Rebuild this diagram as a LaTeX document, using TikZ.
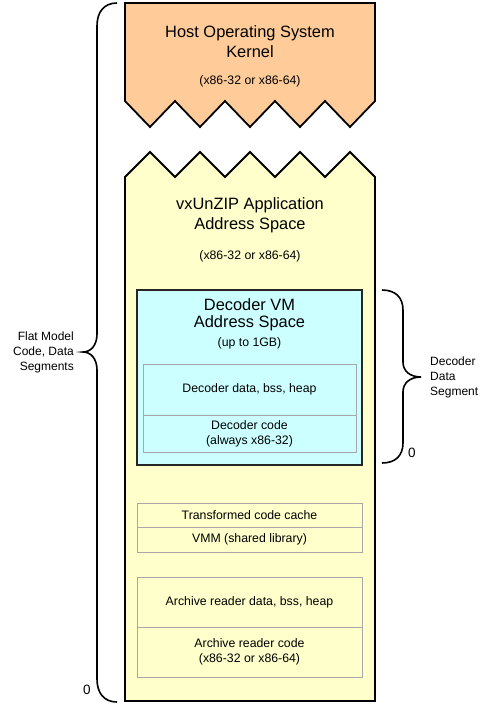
\documentclass[tikz,border=0pt]{standalone}
\usepackage{fontspec}
\setmainfont{Liberation Sans}
\usepackage{xcolor}
\usetikzlibrary{positioning}

\definecolor{kernelfill}{HTML}{FFCC99}
\definecolor{appfill}{HTML}{FFFFCC}
\definecolor{vmfill}{HTML}{CCFFFF}
\definecolor{cellline}{HTML}{A8A8A8}

\begin{document}
\begin{tikzpicture}[x=1pt,y=-1pt,
    outline/.style={draw=black,line width=1.8pt,line join=miter},
    cell/.style={draw=cellline,line width=0.8pt,outer sep=0pt,inner sep=0pt,
        align=center,font=\fontsize{12.3}{15}\selectfont},
    bigtitle/.style={align=center,font=\fontsize{16.4}{19.5}\selectfont},
    subtitle/.style={font=\fontsize{12.3}{15}\selectfont},
    bracestroke/.style={draw=black,line width=1.6pt}]

    \useasboundingbox (0,0) rectangle (501,705);

    % Kernel
    \draw[outline,fill=kernelfill] (125,3) -- (375,3) -- (375,101)
        -- (350,127) -- (325,101) -- (300,127) -- (275,101) -- (250,127)
        -- (225,101) -- (200,127) -- (175,101) -- (150,127) -- (125,101) -- cycle;
    \node[bigtitle] (kernel) at (250,41.5) {Host Operating System\\Kernel};
    \node[subtitle] (kernelarch) at (250,81) {(x86-32 or x86-64)};

    % Application address space
    \draw[outline,fill=appfill] (125,177) -- (150,152) -- (175,177)
        -- (200,152) -- (225,177) -- (250,152) -- (275,177) -- (300,152)
        -- (325,177) -- (350,152) -- (375,177) -- (375,701) -- (125,701) -- cycle;
    \node[bigtitle,font=\fontsize{16.4}{20}\selectfont] (app) at (250,215) {vxUnZIP Application\\Address Space};
    \node[subtitle] (apparch) at (250,256) {(x86-32 or x86-64)};

    % Decoder VM
    \draw[draw=black!85,line width=1.8pt,fill=vmfill] (137,290) rectangle (362,465);
    \node[bigtitle,font=\fontsize{16.4}{17}\selectfont] (vm) at (249.5,315) {Decoder VM\\Address Space};
    \node[subtitle] (vmsize) at (249.5,343) {(up to 1GB)};
    \node[cell,minimum width=213,minimum height=51] (ddata) at (249.5,389.5) {Decoder data, bss, heap};
    \node[cell,minimum width=213,minimum height=37,below=0pt of ddata] (dcode) {Decoder code\\(always x86-32)};

    % VMM and cache
    \node[cell,minimum width=225,minimum height=24] (cache) at (249.5,515) {Transformed code cache};
    \node[cell,minimum width=225,minimum height=25,below=0pt of cache] (vmm) {VMM (shared library)};

    % Archive reader
    \node[cell,minimum width=225,minimum height=50] (adata) at (249.5,602) {Archive reader data, bss, heap};
    \node[cell,minimum width=225,minimum height=50,below=0pt of adata] (acode) {Archive reader code\\(x86-32 or x86-64)};

    % Braces
    \draw[bracestroke] (117,3) .. controls (104,3) and (97,12) .. (97,26)
        -- (97,334) .. controls (97,345) and (91,352) .. (83,352)
        .. controls (91,352) and (97,359) .. (97,370)
        -- (97,679) .. controls (97,693) and (104,702) .. (117,702);
    \coordinate (flattip) at (83,352);
    \node[align=right,font=\fontsize{12}{15}\selectfont,anchor=east,inner sep=0pt] (flat) at (74,352) {Flat Model\\Code, Data\\Segments};
    \node[font=\fontsize{13.5}{16}\selectfont] (flatzero) at (87,690) {0};

    \draw[bracestroke] (382,290) .. controls (395,290) and (403,297) .. (403,310)
        -- (403,362) .. controls (403,371) and (410,377) .. (421,377)
        .. controls (410,377) and (403,383) .. (403,392)
        -- (403,443) .. controls (403,456) and (395,463) .. (382,463);
    \coordinate (segtip) at (421,377);
    \node[align=left,font=\fontsize{12}{15}\selectfont,anchor=west,inner sep=0pt] (seg) at (430,377) {Decoder\\Data\\Segment};
    \node[font=\fontsize{13.5}{16}\selectfont] (segzero) at (412,453) {0};

\end{tikzpicture}
\end{document}
